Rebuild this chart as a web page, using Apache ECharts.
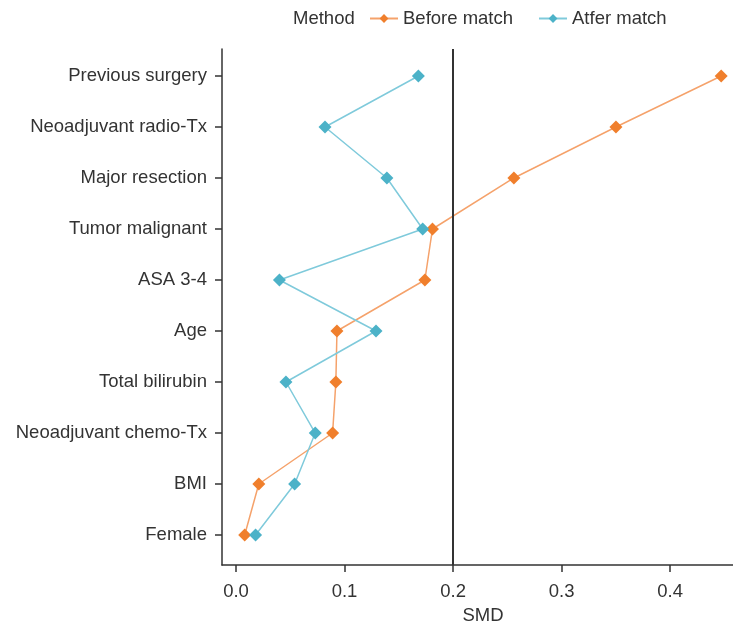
<!DOCTYPE html>
<html>
	<head>
		<meta charset="utf-8">
		<title></title>
		<script src="https://cdn.jsdelivr.net/npm/echarts@6/dist/echarts.min.js"></script>
		<style>
			html, body { margin: 0; padding: 0; background: #fff; }
			#main { width: 733px; height: 625px; }
		</style>
	</head>
	<body>
		<div id="main"></div>
	</body>
	<script>
		// categories listed bottom to top
		var categories = ["Female", "BMI", "Neoadjuvant chemo-Tx", "Total bilirubin", "Age",
			"ASA 3-4", "Tumor malignant", "Major resection", "Neoadjuvant radio-Tx", "Previous surgery"];
		var beforeMatch = [0.008, 0.021, 0.089, 0.092, 0.093, 0.174, 0.181, 0.256, 0.350, 0.447];
		var afterMatch = [0.018, 0.054, 0.073, 0.046, 0.129, 0.040, 0.172, 0.139, 0.082, 0.168];
		var xTicks = [0, 0.1, 0.2, 0.3, 0.4];
		var yTicks = [0, 1, 2, 3, 4, 5, 6, 7, 8, 9];
		var threshold = 0.2;

		function toPoints(arr) {
			return arr.map(function (v, i) { return [v, i]; });
		}

		var font = "Liberation Sans, Arial, sans-serif";
		var fs = 18.5;
		var orange = "#f07f2c";
		var teal = "#4cb2c8";

		var option = {
			animation: false,
			title: {
				text: "Method",
				left: 288,
				top: 4,
				textStyle: { fontFamily: font, fontSize: fs, fontWeight: "normal", color: "#333" }
			},
			legend: {
				left: 364,
				top: 4,
				itemWidth: 28,
				itemHeight: 11,
				itemGap: 25,
				textStyle: { fontFamily: font, fontSize: fs, color: "#333" },
				data: ["Before match", "Atfer match"]
			},
			// plot runs a little past the right edge, as in the original
			grid: { left: 222, width: 522, top: 49, bottom: 60, containLabel: false, outerBoundsMode: "none" },
			xAxis: {
				type: "value",
				min: -0.0129,
				max: 0.468,
				name: "SMD",
				nameLocation: "middle",
				nameGap: 41,
				nameTextStyle: { fontFamily: font, fontSize: fs, color: "#333" },
				splitLine: { show: false },
				axisLine: { show: true, onZero: false, lineStyle: { color: "#333", width: 1.5 } },
				axisTick: { show: true, length: 7, customValues: xTicks, lineStyle: { color: "#333", width: 1.5 } },
				axisLabel: {
					customValues: xTicks,
					margin: 17,
					fontFamily: font, fontSize: fs, color: "#333",
					formatter: function (v) { return v.toFixed(1); }
				}
			},
			yAxis: {
				type: "value",
				min: -0.588,
				max: 9.529,
				splitLine: { show: false },
				axisLine: { show: true, onZero: false, lineStyle: { color: "#333", width: 1.5 } },
				axisTick: { show: true, length: 7, customValues: yTicks, lineStyle: { color: "#333", width: 1.5 } },
				axisLabel: {
					customValues: yTicks,
					margin: 15,
					fontFamily: font, fontSize: fs, color: "#333",
					formatter: function (v) { return categories[Math.round(v)]; }
				}
			},
			series: [
				{
					name: "Before match",
					type: "line",
					data: toPoints(beforeMatch),
					symbol: "diamond",
					symbolSize: 13,
					itemStyle: { color: orange },
					lineStyle: { color: "#f5a26b", width: 1.5 },
					z: 3,
					markLine: {
						silent: true,
						symbol: "none",
						label: { show: false },
						lineStyle: { color: "#333", width: 2, type: "solid" },
						data: [{ xAxis: threshold }]
					}
				},
				{
					name: "Atfer match",
					type: "line",
					data: toPoints(afterMatch),
					symbol: "diamond",
					symbolSize: 13,
					itemStyle: { color: teal },
					lineStyle: { color: "#7fcadb", width: 1.5 },
					z: 4
				}
			]
		};

		var chart = echarts.init(document.getElementById("main"));
		chart.setOption(option);
	</script>
</html>
